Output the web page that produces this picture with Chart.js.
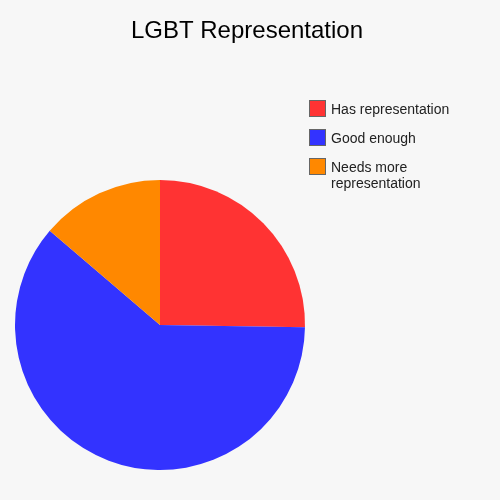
<!DOCTYPE html>
<html><head><meta charset="utf-8">
<script src="https://cdn.jsdelivr.net/npm/chart.js@4/dist/chart.umd.min.js"></script>
<style>html,body{margin:0;padding:0;background:#f7f7f7;overflow:hidden}canvas{display:block}</style>
</head><body>
<canvas id="c" width="500" height="500"></canvas>
<script>
const titleText = 'LGBT Representation';
const categories = ['Has representation', 'Good enough', ['Needs more', 'representation']];
const values = [25.25, 61.0, 13.75];
const colors = ['#ff3333', '#3333ff', '#ff8800'];

const FONT = '"Liberation Sans", Arial, sans-serif';

const bgTitleLegend = {
  id: 'bgTitleLegend',
  beforeDraw(chart) {
    const ctx = chart.ctx;
    ctx.save();
    ctx.fillStyle = '#f7f7f7';
    ctx.fillRect(0, 0, chart.width, chart.height);
    ctx.restore();
  },
  afterDraw(chart) {
    const ctx = chart.ctx;
    ctx.save();
    // title
    ctx.fillStyle = '#000';
    ctx.font = '24px ' + FONT;
    ctx.textAlign = 'center';
    ctx.textBaseline = 'alphabetic';
    ctx.fillText(titleText, 247, 38);
    // legend
    const labels = chart.data.labels;
    const bg = chart.data.datasets[0].backgroundColor;
    ctx.font = '14px ' + FONT;
    ctx.textAlign = 'left';
    ctx.textBaseline = 'alphabetic';
    const x0 = 309, y0 = 100, step = 29, box = 17, lineH = 16;
    labels.forEach((lab, i) => {
      const y = y0 + i * step;
      ctx.fillStyle = bg[i];
      ctx.fillRect(x0, y, box, box);
      ctx.strokeStyle = '#666';
      ctx.lineWidth = 1;
      ctx.strokeRect(x0 + 0.5, y + 0.5, box - 1, box - 1);
      ctx.fillStyle = '#222';
      const lines = Array.isArray(lab) ? lab : [lab];
      lines.forEach((t, j) => ctx.fillText(t, 331, y + 14 + j * lineH));
    });
    ctx.restore();
  }
};

new Chart(document.getElementById('c'), {
  type: 'pie',
  data: {
    labels: categories,
    datasets: [{
      data: values,
      backgroundColor: colors,
      borderWidth: 0,
      hoverOffset: 0
    }]
  },
  options: {
    responsive: false,
    animation: false,
    devicePixelRatio: 1,
    layout: { padding: { left: 15, right: 195, top: 180, bottom: 30 } },
    plugins: {
      legend: { display: false },
      title: { display: false },
      tooltip: { enabled: false }
    }
  },
  plugins: [bgTitleLegend]
});
</script>
</body></html>
